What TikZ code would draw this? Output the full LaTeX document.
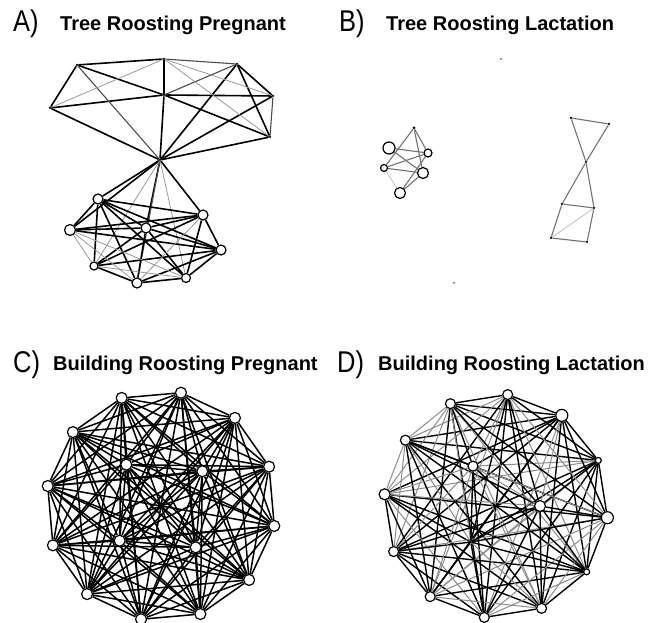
\documentclass[tikz,border=0pt]{standalone}
\usepackage{fontspec}
\setmainfont{Liberation Sans}
\usepackage{graphicx}
\usepackage{tikz}
\usetikzlibrary{backgrounds}

\tikzset{
  bat/.style={circle,draw,fill=white,line width=1.2pt,inner sep=0pt,minimum size=#1},
  bat/.default=10pt,
  roost/.style={circle,fill=black,inner sep=0pt,minimum size=2.5pt},
  tie/.style={line width=1.6pt},
  midtie/.style={line width=1.1pt,black!70},
  weaktie/.style={line width=0.8pt,black!40},
  greytie/.style={line width=1.1pt,black!55},
  panel/.style={anchor=base west,inner sep=0pt,font=\fontsize{30}{30}\selectfont},
  heading/.style={anchor=base west,inner sep=0pt,font=\bfseries\fontsize{20}{24}\selectfont},
}

\begin{document}
\begin{tikzpicture}[x=1pt,y=1pt]
\useasboundingbox (0,0) rectangle (659,623);

% headings
\node[panel] (la) at (13,591) {\scalebox{0.85}[1]{A)}};
\node[heading] (ha) at (60,592) {Tree Roosting Pregnant};
\node[panel] (lb) at (339,591) {\scalebox{0.85}[1]{B)}};
\node[heading] (hb) at (386,592) {Tree Roosting Lactation};
\node[panel] (lc) at (13,250) {\scalebox{0.85}[1]{C)}};
\node[heading] (hc) at (53,252) {Building Roosting Pregnant};
\node[panel] (ld) at (337,250) {\scalebox{0.85}[1]{D)}};
\node[heading] (hd) at (378,252) {Building Roosting Lactation};

% A) upper group
\node[roost] (t1) at (77,558) {};
\node[roost] (t2) at (164,564) {};
\node[roost] (t3) at (237,559) {};
\node[roost] (t4) at (273,527) {};
\node[roost] (t5) at (270,486) {};
\node[roost] (t6) at (50,515) {};
\node[roost] (t7) at (164,528) {};
\node[roost] (hub) at (160,463) {};
% A) lower group
\node[bat] (b1) at (98,424) {};
\node[bat] (b2) at (203,408) {};
\node[bat=11pt] (b3) at (70,393) {};
\node[bat] (b4) at (146,395) {};
\node[bat] (b5) at (221,373) {};
\node[bat=8pt] (b6) at (94,357) {};
\node[bat] (b7) at (137,340) {};
\node[bat=9pt] (b8) at (186,345) {};

\begin{pgfonlayer}{background}
\foreach \u/\v in {t1/t2,t3/t4,t1/t6,t6/t7,t7/t4,t1/t7,t7/t5,t2/t7,t7/hub,
    t6/hub,t3/hub,t4/hub,t5/hub,t3/t5,hub/b1,hub/b2,hub/b3,hub/b4}
  \draw[tie] (\u)--(\v);
\foreach \u/\v in {t2/t3,t4/t5,t3/t7,t1/hub,hub/b7}
  \draw[midtie] (\u)--(\v);
\foreach \u/\v in {t6/t2,t2/t4,t2/t5,hub/b8,hub/b6}
  \draw[weaktie] (\u)--(\v);
\foreach \u/\v in {b1/b2,b1/b3,b1/b4,b1/b5,b1/b6,b1/b7,b1/b8,b3/b2,b3/b4,b3/b5,
    b4/b2,b4/b5,b4/b6,b4/b7,b4/b8,b2/b5,b2/b6,b2/b8,b5/b6,b5/b7,b5/b8,b7/b8,b6/b7}
  \draw[tie] (\u)--(\v);
\foreach \u/\v in {b3/b6,b3/b7,b3/b8,b2/b7,b6/b8}
  \draw[weaktie] (\u)--(\v);
\end{pgfonlayer}

% B) two groups and two lone roosts
\node[roost,black!60,minimum size=2pt] (s1) at (501,564) {};
\node[roost,black!60,minimum size=2pt] (s2) at (454,340) {};
\node[roost,minimum size=3pt] (l1) at (414,495) {};
\node[bat=12pt] (l2) at (389,475) {};
\node[bat=8pt] (l3) at (428,470) {};
\node[bat=7pt] (l4) at (384,455) {};
\node[bat=11pt] (l5) at (423,450) {};
\node[bat=11pt] (l6) at (400,430) {};
\node[roost] (r1) at (571,505) {};
\node[roost] (r2) at (609,499) {};
\node[roost] (r3) at (586,461) {};
\node[roost] (r4) at (562,419) {};
\node[roost] (r5) at (594,415) {};
\node[roost] (r6) at (551,385) {};
\node[roost] (r7) at (587,381) {};

\begin{pgfonlayer}{background}
\foreach \u/\v in {l1/l3,l1/l4,l1/l5,l2/l3,l2/l5,l4/l3,l4/l5,l6/l5,l6/l3,
    r1/r2,r1/r3,r2/r3,r3/r4,r3/r5,r4/r5,r4/r6,r5/r7,r6/r7}
  \draw[greytie] (\u)--(\v);
\foreach \u/\v in {l4/l6,r6/r5}
  \draw[weaktie,black!25] (\u)--(\v);
\end{pgfonlayer}

% C) building roosts, pregnant
\begin{scope}[shift={(161,117)}]
\foreach \k in {1,...,12}
  \node[bat=11pt] (p\k) at ({20+30*(\k-1)}:115) {};
\foreach \k in {13,...,16}
  \node[bat=11pt] (p\k) at ({40+90*(\k-13)}:54) {};
\end{scope}
\begin{pgfonlayer}{background}
\foreach \i [evaluate=\i as \n using int(\i+1)] in {1,...,15}
  \foreach \j in {\n,...,16}
    \draw[tie,line width=1.5pt] (p\i)--(p\j);
\end{pgfonlayer}

% D) building roosts, lactation
\begin{scope}[shift={(496,117)}]
\foreach \k/\d in {1/6pt,2/12pt,3/10pt,4/10pt,5/10pt,6/11pt,7/10pt,8/10pt,
    9/10pt,10/10pt,11/6pt,12/12pt}
  \node[bat=\d] (q\k) at ({24+30*(\k-1)}:112) {};
\node[bat] (q13) at (120:46) {};
\node[bat=11pt] (q14) at (0:44) {};
\node[roost] (q15) at (235:44) {};
\end{scope}
\pgfmathsetseed{11}
\begin{pgfonlayer}{background}
\foreach \i [evaluate=\i as \n using int(\i+1)] in {1,...,14}
  \foreach \j in {\n,...,15}{
    \pgfmathtruncatemacro\w{rnd<0.25}
    \ifnum\w=1 \draw[weaktie,black!45,line width=1pt] (q\i)--(q\j);
    \else \draw[tie,line width=1.4pt] (q\i)--(q\j); \fi
  }
\end{pgfonlayer}
\end{tikzpicture}
\end{document}
